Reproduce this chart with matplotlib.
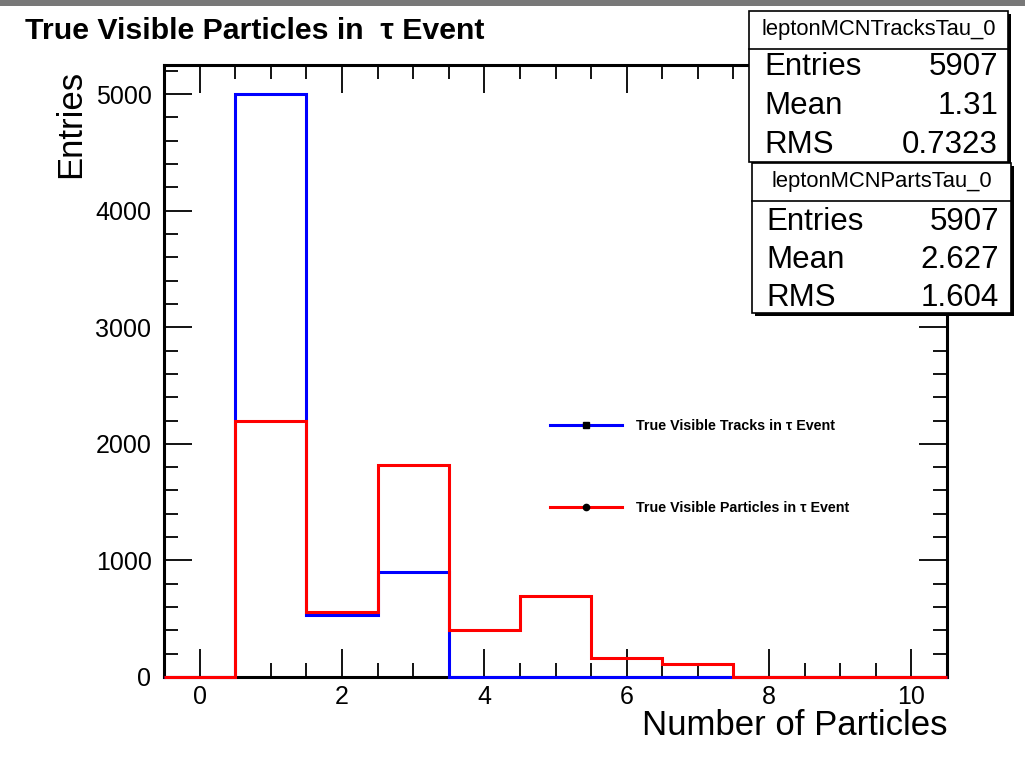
import numpy as np
import matplotlib
matplotlib.use("Agg")
import matplotlib.pyplot as plt
from matplotlib.patches import Rectangle
from matplotlib.lines import Line2D
from matplotlib.ticker import MultipleLocator

plt.rcParams['font.family'] = ['Liberation Sans', 'DejaVu Sans']

# histogram contents, one bin per integer from 0 to 10
edges = np.arange(-0.5, 11.0, 1.0)
tracks = [0, 5000, 535, 897, 0, 0, 0, 0, 0, 0, 0]
particles = [0, 2200, 557, 1818, 407, 691, 163, 112, 0, 0, 0]

stats_tracks = ("leptonMCNTracksTau_0", [("Entries", "5907"), ("Mean", "1.31"), ("RMS", "0.7323")])
stats_parts = ("leptonMCNPartsTau_0", [("Entries", "5907"), ("Mean", "2.627"), ("RMS", "1.604")])

W, H = 1025, 762
fig = plt.figure(figsize=(W / 100, H / 100), dpi=100)


def fx(px):
    return px / W


def fy(py):
    return 1 - py / H


ax = fig.add_axes([fx(164), fy(677), fx(947) - fx(164), fy(65) - fy(677)])

ax.stairs(tracks, edges, color='#0000ff', lw=2.2, baseline=0, zorder=3, clip_on=False)
ax.stairs(particles, edges, color='#ff0000', lw=2.2, baseline=0, zorder=3, clip_on=False)

ax.set_xlim(-0.5, 10.5)
ax.set_ylim(0, 5250)
ax.xaxis.set_major_locator(MultipleLocator(2))
ax.xaxis.set_minor_locator(MultipleLocator(0.5))
ax.yaxis.set_major_locator(MultipleLocator(1000))
ax.yaxis.set_minor_locator(MultipleLocator(200))
ax.tick_params(which='both', direction='in', top=True, right=True, width=1.3, labelsize=18)
ax.tick_params(which='major', length=20)
ax.tick_params(which='minor', length=10)
ax.tick_params(axis='x', pad=6)
ax.tick_params(axis='y', pad=9)
for sp in ax.spines.values():
    sp.set_linewidth(2.2)

ax.set_xlabel('Number of Particles', fontsize=25, loc='right')
ax.xaxis.set_label_coords(1.0, -0.052)
ax.set_ylabel('Entries', fontsize=25, loc='top')
ax.yaxis.set_label_coords(-0.098, 0.992)

fig.text(fx(25), fy(31), 'True Visible Particles in  \u03c4 Event', fontsize=21.8,
         fontweight='bold', ha='left', va='center')

handles = [Line2D([], [], color='#0000ff', lw=2.2, marker='s', markersize=4.5,
                  markerfacecolor='k', markeredgecolor='k'),
           Line2D([], [], color='#ff0000', lw=2.2, marker='o', markersize=4.5,
                  markerfacecolor='k', markeredgecolor='k')]
labels = ['True Visible Tracks in \u03c4 Event', 'True Visible Particles in \u03c4 Event']
leg = ax.legend(handles, labels, loc='upper left', bbox_to_anchor=(fx(550), fy(419)),
                bbox_transform=fig.transFigure, frameon=False, borderpad=0,
                borderaxespad=0, handlelength=5.0, handletextpad=1.0,
                labelspacing=4.75, numpoints=1, prop={'size': 10.3, 'weight': 'bold'})


def stat_box(x0, x1, y0, y1, ysep, title, rows, xl, xr, ys, ytitle):
    # shadow first, then the white box on top of it
    fig.add_artist(Rectangle((fx(x0 + 3), fy(y1 + 3)), fx(x1 - x0), fy(y0) - fy(y1),
                             transform=fig.transFigure, facecolor='k', edgecolor='none',
                             zorder=4))
    fig.add_artist(Rectangle((fx(x0), fy(y1)), fx(x1 - x0), fy(y0) - fy(y1),
                             transform=fig.transFigure, facecolor='white', edgecolor='k',
                             lw=1.2, zorder=5))
    fig.add_artist(Line2D([fx(x0), fx(x1)], [fy(ysep), fy(ysep)], transform=fig.transFigure,
                          color='k', lw=1.2, zorder=6))
    fig.text(fx((x0 + x1) / 2), fy(ytitle), title, fontsize=15.8, ha='center', va='center',
             zorder=7)
    for (name, val), yy in zip(rows, ys):
        fig.text(fx(xl), fy(yy), name, fontsize=22.5, ha='left', va='center', zorder=7)
        fig.text(fx(xr), fy(yy), val, fontsize=22.5, ha='right', va='center', zorder=7)


stat_box(749, 1008, 11, 162, 49, stats_tracks[0], stats_tracks[1],
         764, 998, [67, 106, 145], 29)
stat_box(752, 1011, 163, 313, 201, stats_parts[0], stats_parts[1],
         766, 999, [222, 260, 298], 182)

# grey strip along the top edge
fig.add_artist(Rectangle((0, fy(6)), 1, 1 - fy(6), transform=fig.transFigure,
                         facecolor='#787878', edgecolor='none', zorder=8))

fig.savefig('out.png', dpi=100)
